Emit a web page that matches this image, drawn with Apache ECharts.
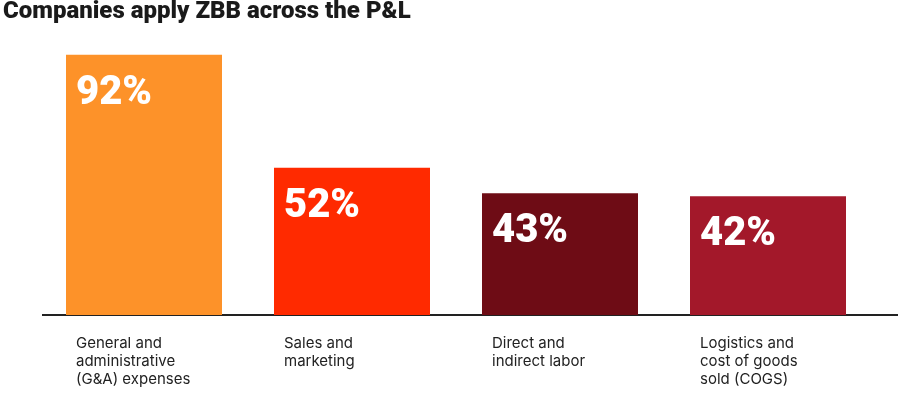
<!DOCTYPE html>
<html>
<head>
<meta charset="utf-8">
<script src="https://cdn.jsdelivr.net/npm/echarts@6/dist/echarts.min.js"></script>
<style>
  html, body { margin: 0; padding: 0; background: #fff; }
  #chart { width: 900px; height: 397px; }
</style>
</head>
<body>
<div id="chart"></div>
<script>
// Chart data
const categories = [
  'General and\nadministrative\n(G&A) expenses',
  'Sales and\nmarketing',
  'Direct and\nindirect labor',
  'Logistics and\ncost of goods\nsold (COGS)'
];
const shares = [92, 52, 43, 42]; // % of companies
const barColors = ['#FD9229', '#FF2A00', '#6E0C15', '#A3182A'];

let myChart = echarts.init(document.getElementById('chart'));

const option = {
  animation: false,
  title: {
    text: 'Companies apply ZBB across the P&L',
    left: 3,
    top: 0,
    padding: 0,
    textStyle: {
      fontFamily: 'Roboto',
      fontWeight: 900,
      fontSize: 24,
      color: '#1a1a1a'
    }
  },
  grid: { left: 40, right: 28, top: 32, bottom: 82 },
  xAxis: {
    type: 'category',
    data: categories,
    axisLine: { show: false },
    axisTick: { show: false },
    axisLabel: {
      margin: 19,
      align: 'center',
      formatter: (val) => '{a|' + val + '}',
      rich: {
        a: {
          width: 136,
          align: 'left',
          fontFamily: 'Inter',
          fontSize: 15,
          lineHeight: 18,
          color: '#222'
        }
      }
    }
  },
  yAxis: {
    type: 'value',
    min: 0,
    max: 100,
    show: false
  },
  series: [
    {
      type: 'bar',
      barWidth: 156,
      data: shares.map((v, i) => ({ value: v, itemStyle: { color: barColors[i] } })),
      label: {
        show: true,
        position: [10, 19],
        formatter: '{c}%',
        color: '#fff',
        fontFamily: 'Roboto',
        fontWeight: 900,
        fontSize: 40
      }
    }
  ],
  // baseline runs past the plot area on both sides
  graphic: [
    {
      type: 'line',
      shape: { x1: 42, y1: 315, x2: 898, y2: 315 },
      style: { stroke: '#222', lineWidth: 2 }
    }
  ]
};

myChart.setOption(option);
</script>
</body>
</html>
